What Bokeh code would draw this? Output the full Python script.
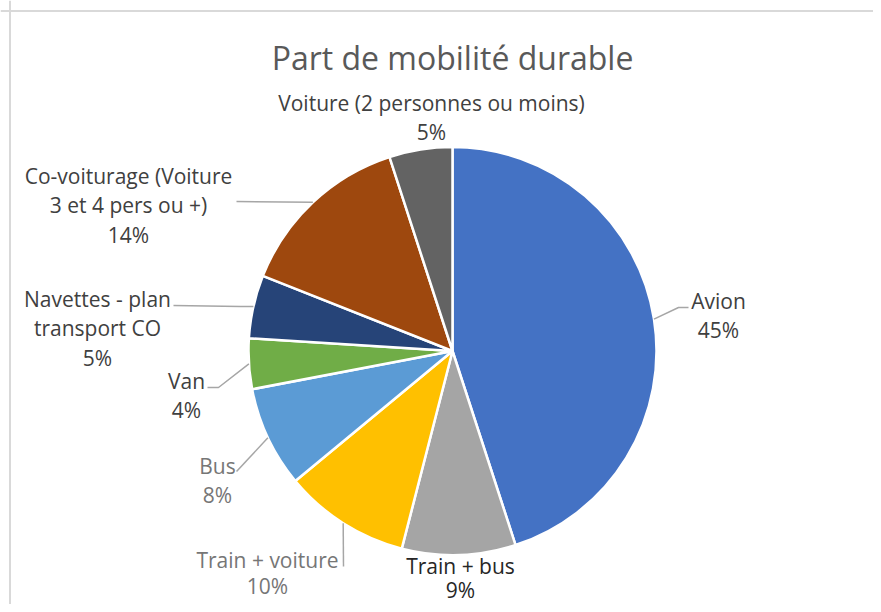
import math
from bokeh.plotting import figure
from bokeh.models import Range1d, Span
from bokeh.core.properties import value
from bokeh.embed import file_html
from bokeh.resources import INLINE

# ---- data ----
categories = ["Avion", "Train + bus", "Train + voiture", "Bus", "Van",
              "Navettes - plan transport CO", "Co-voiturage (Voiture 3 et 4 pers ou +)",
              "Voiture (2 personnes ou moins)"]
shares = [45, 9, 10, 8, 4, 5, 14, 5]
colors = ["#4472C4", "#A5A5A5", "#FFC000", "#5B9BD5", "#70AD47", "#264478", "#9E480E", "#636363"]
title_text = "Part de mobilité durable"

# ---- layout (pixels in the picture) ----
label_lines = [["Avion"], ["Train + bus"], ["Train + voiture"], ["Bus"], ["Van"],
               ["Navettes - plan", "transport CO"], ["Co-voiturage (Voiture", "3 et 4 pers ou +)"],
               ["Voiture (2 personnes ou moins)"]]
label_pos = [(718, 300), (460, 565), (267, 559), (217, 465), (186, 380),
             (97, 298), (128, 175), (431, 102)]
label_line_h = [29.5, 24, 26, 29.5, 29.5, 29.5, 29.5, 29.5]
label_colors = ["#404040", "#262626", "#767676", "#767676", "#404040", "#404040", "#404040", "#404040"]
leader_pts = [[(678, 307), (688, 307)], None, [(343, 566)], [(236, 471)],
              [(218, 387), (207, 387)], [(240, 306), (173, 305)], [(236, 201)], None]
CX, CY, R = 452, 350.5, 204
W, H = 873, 604


def dy(y):
    return H - y


p = figure(width=W, height=H, output_backend="svg", toolbar_location=None,
           x_range=Range1d(0, W), y_range=Range1d(0, H), min_border=0)
p.axis.visible = False
p.grid.visible = False
p.outline_line_color = None
p.background_fill_color = "white"
p.border_fill_color = "white"

# chart border (left/top visible)
p.add_layout(Span(location=9.5, dimension="height", line_color="#d9d9d9", line_width=2))
p.add_layout(Span(location=dy(10.5), dimension="width", line_color="#d9d9d9", line_width=2))

total = float(sum(shares))
starts, ends, mids = [], [], []
cum = 0.0
for v in shares:
    a0 = cum / total * 2 * math.pi
    cum += v
    a1 = cum / total * 2 * math.pi
    starts.append(math.pi / 2 - a0)
    ends.append(math.pi / 2 - a1)
    mids.append((a0 + a1) / 2)

p.wedge(x=[CX] * len(shares), y=[dy(CY)] * len(shares), radius=R,
        start_angle=starts, end_angle=ends, direction="clock",
        fill_color=colors, line_color="white", line_width=2.5)

# leader lines
for i, pts in enumerate(leader_pts):
    if not pts:
        continue
    ex = CX + R * math.sin(mids[i])
    ey = CY - R * math.cos(mids[i])
    xs = [ex] + [q[0] for q in pts]
    ys = [dy(ey)] + [dy(q[1]) for q in pts]
    p.line(xs, ys, line_color="#a6a6a6", line_width=1.5)

# labels
for i, lines in enumerate(label_lines):
    x0, y0 = label_pos[i]
    all_lines = lines + [f"{round(shares[i])}%"]
    for k, t in enumerate(all_lines):
        p.text(x=[x0], y=[dy(y0 + k * label_line_h[i])], text=[t], text_align="center",
               text_baseline="middle", text_font=value("Open Sans"),
               text_font_size="21px", text_color=label_colors[i])

# title
p.text(x=[452], y=[dy(57)], text=[title_text], text_align="center", text_baseline="middle",
       text_font=value("Open Sans"), text_font_size="32px", text_color="#595959")

open("out.html", "w").write(file_html(p, INLINE))
